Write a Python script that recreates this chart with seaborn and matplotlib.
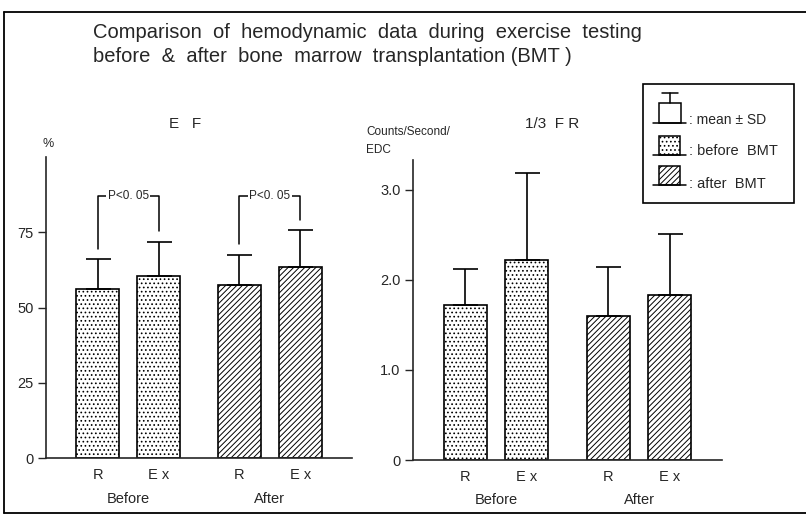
import matplotlib

matplotlib.use("Agg")

import matplotlib.pyplot as plt
import numpy as np
import pandas as pd
import seaborn as sns
from matplotlib.patches import Rectangle

# values
periods = ["Before", "After"]
phases = ["R", "Ex"]
phase_labels = ["R", "E x"]
ef_mean = [56.0, 60.5, 57.5, 63.5]
ef_sd = [10.0, 11.3, 10.1, 12.1]
fr_mean = [1.72, 2.22, 1.60, 1.83]
fr_sd = [0.40, 0.97, 0.54, 0.68]
ef_ticks = [0, 25, 50, 75]
ef_ticklabels = ["0", "25", "50", "75"]
fr_ticks = [0, 1, 2, 3]
fr_ticklabels = ["0", "1.0", "2.0", "3.0"]
p_label = "P<0. 05"

sns.set_style("ticks")
plt.rcParams["font.family"] = ["Liberation Sans", "DejaVu Sans"]
plt.rcParams["hatch.linewidth"] = 0.7

W, H = 806, 517
fig = plt.figure(figsize=(W / 100, H / 100), dpi=100)

DOTS, LINES = "....", "//////"


def px_axes(x0, y0, x1, y1):
    return fig.add_axes([x0 / W, 1 - y1 / H, (x1 - x0) / W, (y1 - y0) / H])


def panel(ax, means, sds, ylim, ticks, ticklabels):
    df = pd.DataFrame({
        "period": np.repeat(periods, len(phases)),
        "phase": phases * len(periods),
        "value": means,
    })
    sns.barplot(data=df, x="period", y="value", hue="phase", order=periods,
                hue_order=phases, palette={p: "white" for p in phases},
                edgecolor="black", linewidth=1.2, width=0.86, gap=0.3,
                errorbar=None, legend=False, ax=ax)
    bars = sorted(ax.patches, key=lambda b: b.get_x())
    centers = []
    for b in bars:
        cx = b.get_x() + b.get_width() / 2
        centers.append(cx)
        b.set_hatch(DOTS if cx < 0.5 else LINES)
        b.set_edgecolor("black")
    ax.errorbar(centers, means, yerr=[np.zeros(len(sds)), sds], fmt="none",
                ecolor="black", elinewidth=1.2, capsize=9, capthick=1.2)
    ax.set_xlim(-0.58, 1.58)
    ax.set_ylim(*ylim)
    ax.set_yticks(ticks, ticklabels)
    ax.set_xticks(centers, phase_labels * len(periods))
    ax.tick_params(axis="x", length=0, pad=7, labelsize=10.5)
    ax.tick_params(axis="y", length=6, width=1, direction="out", labelsize=10.5, pad=3)
    ax.set_xlabel("")
    ax.set_ylabel("")
    ax.set_facecolor("none")
    for i, p in enumerate(periods):
        ax.text(i, -0.135, p, transform=ax.get_xaxis_transform(),
                ha="center", va="center", fontsize=10.5)
    sns.despine(ax=ax)
    for s in ax.spines.values():
        s.set_linewidth(1.2)
    return centers


ax1 = px_axes(46, 157, 352, 458)
c1 = panel(ax1, ef_mean, ef_sd, (0, 100), ef_ticks, ef_ticklabels)
ax2 = px_axes(413, 160, 722, 460)
panel(ax2, fr_mean, fr_sd, (0, 3.333), fr_ticks, fr_ticklabels)

# significance brackets between R and Ex in each period
for k in range(len(periods)):
    i, j = 2 * k, 2 * k + 1
    top = 87
    xl, xr = c1[i], c1[j]
    ax1.plot([xl, xl, xr, xr],
             [ef_mean[i] + ef_sd[i] + 3.5, top, top, ef_mean[j] + ef_sd[j] + 3.5],
             color="black", lw=1.1, clip_on=False)
    ax1.text((xl + xr) / 2, top, p_label, ha="center", va="center", fontsize=8.5,
             bbox=dict(facecolor="white", edgecolor="none", pad=1.0))

# overlay in pixel units for frame, titles and legend
ov = fig.add_axes([0, 0, 1, 1], zorder=5)
ov.set_xlim(0, W)
ov.set_ylim(H, 0)
ov.axis("off")
ov.plot([4, 4], [12, 513], color="black", lw=1.3)
ov.plot([4, W], [12, 12], color="black", lw=1.3)
ov.plot([4, W], [513, 513], color="black", lw=1.3)

ov.text(93, 33, "Comparison  of  hemodynamic  data  during  exercise  testing",
        ha="left", va="center", fontsize=14.5)
ov.text(93, 57, "before  &  after  bone  marrow  transplantation (BMT )",
        ha="left", va="center", fontsize=14.5)
ov.text(185, 124, "E   F", ha="center", va="center", fontsize=11)
ov.text(552, 124, "1/3  F R", ha="center", va="center", fontsize=11)
ov.text(48, 144, "%", ha="center", va="center", fontsize=9)
ov.text(366, 132, "Counts/Second/", ha="left", va="center", fontsize=8.5)
ov.text(366, 150, "EDC", ha="left", va="center", fontsize=8.5)

# legend box
ov.add_patch(Rectangle((643, 84), 151, 119, facecolor="white", edgecolor="black", lw=1.2))
ov.add_patch(Rectangle((659, 103), 22, 20, facecolor="white", edgecolor="black", lw=1.1))
ov.plot([670, 670], [93, 103], color="black", lw=1.1)
ov.plot([662, 678], [93, 93], color="black", lw=1.1)
ov.add_patch(Rectangle((659, 136), 21, 19, facecolor="white", edgecolor="black",
                       lw=1.1, hatch=DOTS))
ov.add_patch(Rectangle((659, 166), 21, 19, facecolor="white", edgecolor="black",
                       lw=1.1, hatch=LINES))
for yb in (123, 155, 185):
    ov.plot([653, 686], [yb, yb], color="black", lw=1.1)
ov.text(689, 120, ": mean ± SD", ha="left", va="center", fontsize=10)
ov.text(689, 151, ": before  BMT", ha="left", va="center", fontsize=10.5)
ov.text(689, 184, ": after  BMT", ha="left", va="center", fontsize=10.5)

fig.savefig("out.png", dpi=100)
